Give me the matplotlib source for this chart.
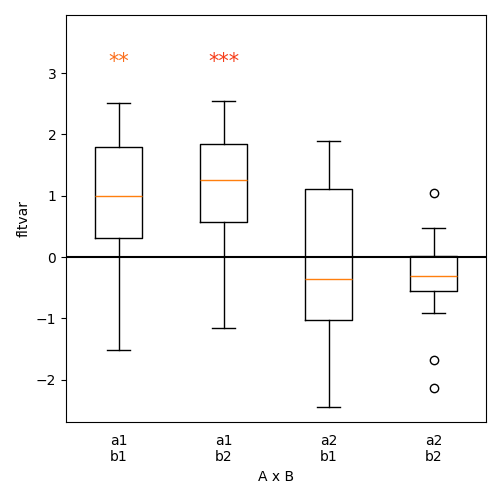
import numpy as np
import matplotlib
matplotlib.use('Agg')
import matplotlib.pyplot as plt

labels = ['a1\nb1', 'a1\nb2', 'a2\nb1', 'a2\nb2']
whislo = [-1.52, -1.16, -2.45, -0.91]
q1 = [0.31, 0.57, -1.03, -0.55]
med = [0.995, 1.255, -0.36, -0.31]
q3 = [1.79, 1.84, 1.11, 0.02]
whishi = [2.51, 2.54, 1.89, 0.47]
fliers = [[], [], [], [1.04, -1.68, -2.14]]

sig_pos = [1, 2]
sig_text = ['**', '***']
sig_y = [3.18, 3.18]
sig_colors = ['#fb6e1c', '#f63e1b']

stats = []
for i in range(len(labels)):
    stats.append({'label': labels[i], 'whislo': whislo[i], 'q1': q1[i], 'med': med[i],
                  'q3': q3[i], 'whishi': whishi[i], 'fliers': fliers[i]})

fig = plt.figure(figsize=(5, 5), dpi=100)
ax = fig.add_axes([0.132, 0.156, 0.84, 0.814])
ax.bxp(stats)
ax.axhline(0, color='k', linewidth=1.5)
for x, t, y, c in zip(sig_pos, sig_text, sig_y, sig_colors):
    ax.text(x, y, t, color=c, fontsize=15, ha='center', va='center')
ax.set_ylim(-2.69, 3.946)
ax.tick_params(axis='x', length=0, pad=8.5)
ax.set_xlabel('A x B')
ax.set_ylabel('fltvar')
fig.savefig('out.png', dpi=100)
